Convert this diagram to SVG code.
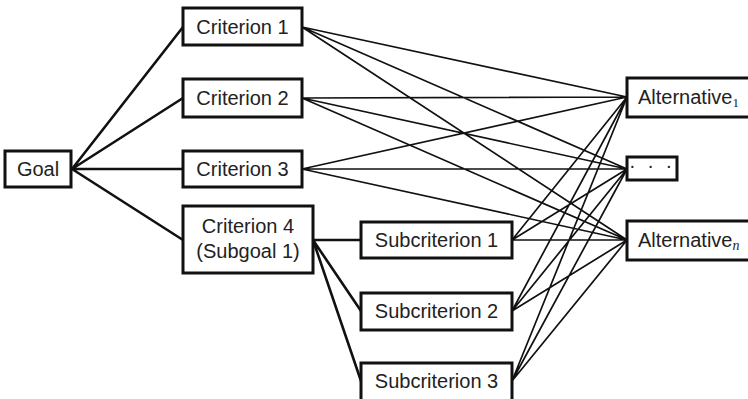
<svg xmlns="http://www.w3.org/2000/svg" width="748" height="399" viewBox="0 0 748 399">
<style>
.box{fill:#fff;stroke:#111;stroke-width:3}
.t{font-family:"Liberation Sans",Arial,sans-serif;font-size:20px;fill:#222;text-anchor:middle}
.tl{font-family:"Liberation Sans",Arial,sans-serif;font-size:20px;fill:#222}
.thick{stroke:#111;stroke-width:2.6;fill:none}
.thin{stroke:#111;stroke-width:1.7;fill:none}
</style>
<rect width="748" height="399" fill="#fff"/>
<g id="connectors">
<path class="thick" d="M72 169L183 27M72 169L183 98M72 169L183 169M72 169L183 240"/>
<path class="thick" d="M313 240L361 240M313 240L361 311M313 240L361 381"/>
<path class="thin" d="M302 27L627 97M302 27L627 169M302 27L627 240
M302 98L627 97M302 98L627 169M302 98L627 240
M302 169L627 97M302 169L627 169M302 169L627 240
M512 240L627 97M512 240L627 169M512 240L627 240
M512 311L627 97M512 311L627 169M512 311L627 240
M512 381L627 97M512 381L627 169M512 381L627 240"/>
</g>
<g id="goal"><rect class="box" x="5" y="151" width="66" height="36"/><text class="t" x="38" y="176">Goal</text></g>
<g id="c1"><rect class="box" x="183" y="8" width="119" height="37"/><text class="t" x="242.5" y="34">Criterion 1</text></g>
<g id="c2"><rect class="box" x="183" y="79" width="119" height="38"/><text class="t" x="242.5" y="105">Criterion 2</text></g>
<g id="c3"><rect class="box" x="183" y="151" width="119" height="36"/><text class="t" x="242.5" y="176">Criterion 3</text></g>
<g id="c4"><rect class="box" x="183" y="206" width="130" height="67"/><text class="t" x="248" y="233">Criterion 4</text><text class="t" x="248" y="258">(Subgoal 1)</text></g>
<g id="s1"><rect class="box" x="361" y="222" width="151" height="36"/><text class="t" x="436.5" y="247">Subcriterion 1</text></g>
<g id="s2"><rect class="box" x="361" y="293" width="151" height="37"/><text class="t" x="436.5" y="318">Subcriterion 2</text></g>
<g id="s3"><rect class="box" x="361" y="363" width="151" height="40"/><text class="t" x="436.5" y="388">Subcriterion 3</text></g>
<g id="alt1"><rect class="box" x="627" y="78" width="130" height="39"/><text class="tl" x="638" y="104">Alternative<tspan font-size="13" font-family="Liberation Serif,serif" dy="3">1</tspan></text></g>
<g id="altdots"><rect class="box" x="627" y="157" width="50" height="23"/><text class="t" x="652" y="172" font-size="11" fill="#444" letter-spacing="3">· · ·</text></g>
<g id="altn"><rect class="box" x="627" y="221" width="130" height="39"/><text class="tl" x="638" y="247">Alternative<tspan font-size="14" font-style="italic" font-family="Liberation Serif,serif" dy="3">n</tspan></text></g>
</svg>
